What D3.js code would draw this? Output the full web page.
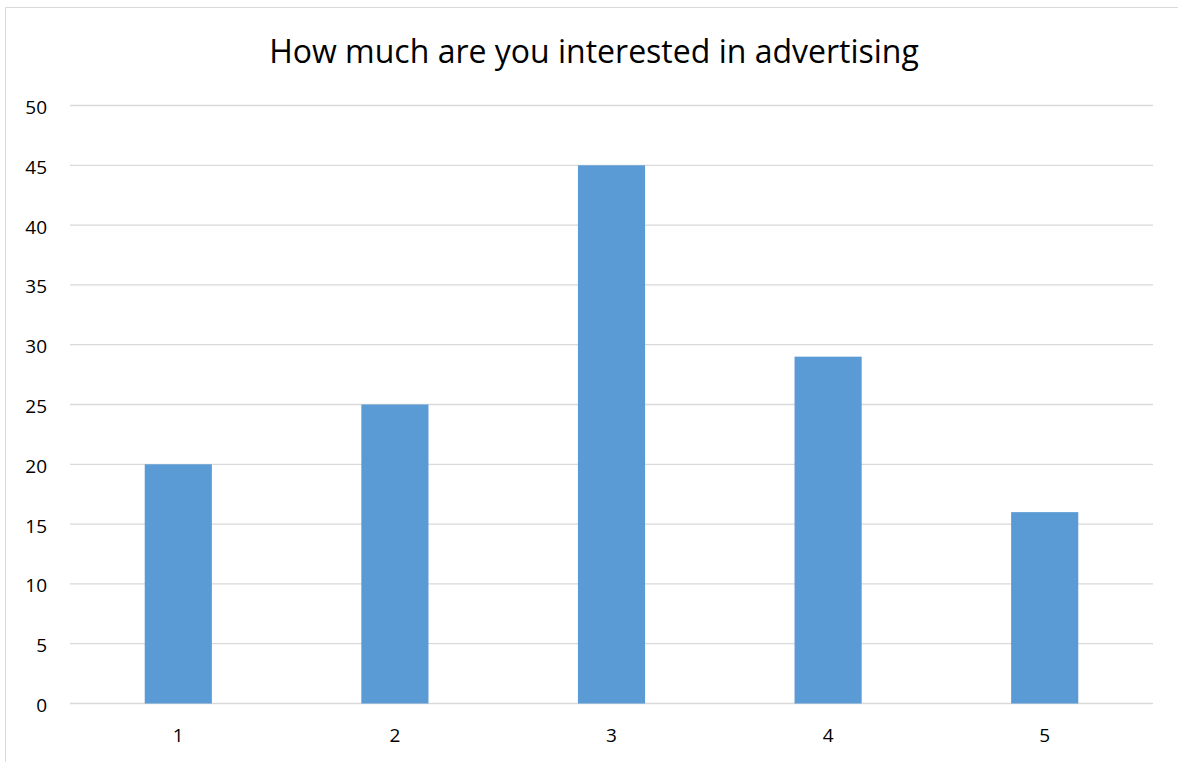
<!DOCTYPE html>
<html><head><meta charset="utf-8">
<script src="https://cdn.jsdelivr.net/npm/d3@7"></script>
<style>body{margin:0;background:#fff}svg{display:block}</style>
</head><body>
<script>
const categories = ["1","2","3","4","5"];
const values = [20,25,45,29,16];
const yTicks = [0,5,10,15,20,25,30,35,40,45,50];
const title = "How much are you interested in advertising";

const W=1178,H=762;
const svg=d3.select("body").append("svg").attr("width",W).attr("height",H);
const font="'Open Sans', sans-serif";
// border
svg.append("path").attr("d","M5.5,762 L5.5,7.5 L1178,7.5").attr("fill","none").attr("stroke","#d9d9d9").attr("stroke-width",1);

const x=d3.scaleBand().domain(categories).range([70,1153]).paddingInner(0.69).paddingOuter(0.345);
const y=d3.scaleLinear().domain([0,50]).range([703.5,105.5]);

const grid=svg.append("g");
grid.selectAll("line").data(yTicks).join("line")
 .attr("x1",70).attr("x2",1153).attr("y1",d=>y(d)).attr("y2",d=>y(d))
 .attr("stroke","#d9d9d9").attr("stroke-width",1.3);

svg.append("g").selectAll("rect").data(values).join("rect")
 .attr("x",(d,i)=>x(categories[i])).attr("width",x.bandwidth())
 .attr("y",d=>y(d)).attr("height",d=>y(0)-y(d)).attr("fill","#5b9bd5");

const yAxis=svg.append("g").attr("transform","translate(47,0)")
 .call(d3.axisLeft(y).tickValues(yTicks).tickSize(0).tickPadding(0));
yAxis.select(".domain").remove();
yAxis.selectAll("text").attr("font-family",font).attr("font-size",19).attr("fill","#000").attr("dy","0.42em");

const xAxis=svg.append("g").attr("transform","translate(0,742)")
 .call(d3.axisBottom(x).tickSize(0).tickPadding(0));
xAxis.select(".domain").remove();
xAxis.selectAll("text").attr("font-family",font).attr("font-size",19).attr("fill","#000").attr("y",0).attr("dy",0);

svg.append("text").attr("x",594).attr("y",62.5).attr("text-anchor","middle")
 .attr("font-family",font).attr("font-size",32).attr("fill","#000").text(title);
</script>
</body></html>
